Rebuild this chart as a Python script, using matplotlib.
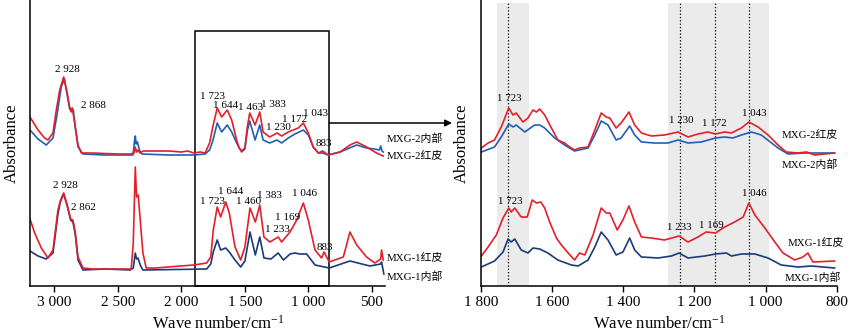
import matplotlib
matplotlib.use('Agg')
import matplotlib.pyplot as plt
from matplotlib.patches import Rectangle
import numpy as np

plt.rcParams['font.family'] = ['Liberation Serif', 'Noto Sans CJK SC']
plt.rcParams['mathtext.fontset'] = 'custom'
plt.rcParams['mathtext.rm'] = 'Liberation Serif'
plt.rcParams['mathtext.default'] = 'regular'
plt.rcParams['axes.linewidth'] = 1.1

RED = '#e3202a'
BLUE = '#1f60b5'
NAVY = '#1b3a78'

# ---- full range spectra (wavenumber / cm-1, absorbance a.u.) ----
wn_2red = [3191, 3128, 3076, 3050, 3010, 2984, 2957, 2926, 2898, 2879, 2871, 2865, 2858,
           2839, 2813, 2787, 2700, 2500, 2400, 2372, 2362, 2352, 2342, 2325, 2300, 2200,
           2100, 2000, 1950, 1900, 1850, 1812, 1777, 1752, 1717, 1682, 1638, 1603, 1564,
           1545, 1525, 1499, 1480, 1461, 1419, 1382, 1356, 1304, 1246, 1210, 1158, 1118,
           1079, 1039, 1000, 961, 921, 887, 843, 750, 672, 619, 541, 463, 410]
ab_2red = [1.69, 1.56, 1.48, 1.46, 1.53, 1.76, 1.96, 2.09, 1.93, 1.79, 1.77, 1.74, 1.78,
           1.63, 1.41, 1.33, 1.33, 1.32, 1.32, 1.33, 1.39, 1.34, 1.36, 1.33, 1.35, 1.35,
           1.35, 1.34, 1.35, 1.33, 1.34, 1.33, 1.43, 1.59, 1.78, 1.69, 1.76, 1.66, 1.46,
           1.38, 1.35, 1.38, 1.59, 1.73, 1.61, 1.74, 1.54, 1.49, 1.53, 1.50, 1.54, 1.56,
           1.58, 1.63, 1.53, 1.39, 1.33, 1.35, 1.31, 1.34, 1.41, 1.44, 1.39, 1.33, 1.30]

wn_2blue = [3191, 3128, 3063, 3010, 2976, 2945, 2920, 2898, 2879, 2865, 2850, 2835, 2813,
            2774, 2600, 2400, 2380, 2368, 2362, 2355, 2345, 2330, 2310, 2100, 1900, 1812,
            1777, 1752, 1717, 1682, 1638, 1603, 1564, 1525, 1499, 1480, 1461, 1419, 1382,
            1356, 1304, 1246, 1210, 1158, 1105, 1039, 1000, 961, 921, 887, 843, 750, 619,
            541, 480, 440, 430, 420, 410]
ab_2blue = [1.56, 1.47, 1.41, 1.48, 1.73, 1.99, 2.07, 1.91, 1.77, 1.75, 1.76, 1.59, 1.39,
            1.32, 1.31, 1.31, 1.31, 1.45, 1.50, 1.42, 1.44, 1.36, 1.32, 1.31, 1.31, 1.32,
            1.36, 1.45, 1.63, 1.54, 1.61, 1.54, 1.43, 1.34, 1.37, 1.55, 1.65, 1.46, 1.61,
            1.46, 1.43, 1.46, 1.43, 1.48, 1.52, 1.56, 1.51, 1.39, 1.33, 1.33, 1.31, 1.34,
            1.41, 1.38, 1.37, 1.36, 1.40, 1.35, 1.34]

wn_1red = [3191, 3154, 3102, 3050, 3010, 2971, 2950, 2926, 2898, 2871, 2853, 2835, 2813,
           2774, 2700, 2400, 2394, 2378, 2362, 2352, 2339, 2302, 2276, 2200, 2105, 1900,
           1800, 1768, 1748, 1717, 1690, 1650, 1622, 1577, 1532, 1499, 1459, 1417, 1382,
           1349, 1302, 1237, 1210, 1144, 1091, 1039, 1000, 947, 895, 876, 835, 724, 672,
           619, 541, 476, 430, 423, 410]
ab_1red = [0.67, 0.53, 0.38, 0.28, 0.36, 0.76, 0.86, 0.93, 0.81, 0.67, 0.66, 0.54, 0.29,
           0.18, 0.17, 0.17, 0.17, 0.43, 1.19, 0.89, 0.91, 0.33, 0.18, 0.18, 0.19, 0.21,
           0.23, 0.29, 0.56, 0.79, 0.69, 0.84, 0.73, 0.39, 0.26, 0.39, 0.78, 0.64, 0.81,
           0.49, 0.44, 0.49, 0.44, 0.54, 0.66, 0.83, 0.66, 0.36, 0.28, 0.34, 0.24, 0.29,
           0.54, 0.41, 0.29, 0.23, 0.27, 0.36, 0.26]

wn_1navy = [3191, 3128, 3063, 3010, 2971, 2953, 2926, 2898, 2871, 2853, 2835, 2813, 2774,
            2600, 2400, 2378, 2362, 2352, 2341, 2320, 2302, 1800, 1768, 1748, 1717, 1690,
            1650, 1622, 1577, 1532, 1499, 1459, 1417, 1382, 1349, 1294, 1237, 1195, 1144,
            1105, 1066, 1013, 947, 835, 672, 515, 430, 423, 405]
ab_1navy = [0.35, 0.30, 0.27, 0.33, 0.72, 0.84, 0.92, 0.80, 0.66, 0.64, 0.52, 0.26, 0.16,
            0.17, 0.16, 0.18, 0.33, 0.27, 0.28, 0.20, 0.16, 0.17, 0.22, 0.34, 0.46, 0.36,
            0.38, 0.34, 0.26, 0.19, 0.25, 0.54, 0.31, 0.49, 0.28, 0.27, 0.33, 0.26, 0.32,
            0.33, 0.32, 0.32, 0.21, 0.18, 0.25, 0.20, 0.22, 0.24, 0.12]

# ---- fingerprint region 1800-800 cm-1 ----
fp_2red_wn = [1799, 1780, 1762, 1743, 1722, 1710, 1701, 1682, 1668, 1654, 1644, 1635, 1621,
              1602, 1584, 1565, 1551, 1537, 1523, 1499, 1480, 1462, 1448, 1438, 1420, 1406,
              1384, 1368, 1349, 1321, 1284, 1246, 1218, 1190, 1162, 1141, 1115, 1096, 1068,
              1047, 1021, 993, 965, 942, 909, 885, 862, 806]
fp_2red_ab = [1.38, 1.43, 1.46, 1.59, 1.78, 1.71, 1.73, 1.64, 1.68, 1.76, 1.74, 1.77, 1.71,
              1.58, 1.46, 1.43, 1.39, 1.36, 1.38, 1.39, 1.56, 1.73, 1.69, 1.68, 1.58, 1.63,
              1.74, 1.61, 1.53, 1.50, 1.51, 1.54, 1.49, 1.52, 1.54, 1.52, 1.54, 1.53, 1.58,
              1.64, 1.59, 1.51, 1.41, 1.34, 1.33, 1.34, 1.31, 1.33]

fp_2blue_wn = [1799, 1762, 1743, 1722, 1710, 1701, 1677, 1649, 1635, 1621, 1593, 1565, 1537,
               1499, 1480, 1462, 1443, 1420, 1406, 1382, 1368, 1349, 1312, 1274, 1246, 1218,
               1181, 1141, 1115, 1092, 1068, 1040, 1012, 965, 937, 890, 806]
fp_2blue_ab = [1.34, 1.39, 1.49, 1.62, 1.59, 1.61, 1.54, 1.61, 1.61, 1.58, 1.48, 1.41, 1.35,
               1.38, 1.51, 1.65, 1.61, 1.46, 1.48, 1.60, 1.51, 1.44, 1.43, 1.43, 1.46, 1.43,
               1.44, 1.48, 1.49, 1.48, 1.51, 1.54, 1.51, 1.38, 1.32, 1.33, 1.33]

fp_1red_wn = [1799, 1780, 1757, 1738, 1722, 1715, 1705, 1687, 1670, 1656, 1644, 1632, 1621,
              1607, 1588, 1574, 1555, 1537, 1523, 1508, 1485, 1462, 1448, 1438, 1417, 1401,
              1384, 1368, 1349, 1321, 1284, 1243, 1218, 1190, 1167, 1141, 1115, 1087, 1063,
              1047, 1030, 1002, 974, 951, 918, 895, 881, 867, 806]
fp_1red_ab = [0.30, 0.39, 0.51, 0.68, 0.78, 0.74, 0.78, 0.69, 0.69, 0.86, 0.83, 0.84, 0.78,
              0.64, 0.48, 0.41, 0.33, 0.26, 0.33, 0.31, 0.51, 0.78, 0.73, 0.73, 0.56, 0.66,
              0.80, 0.64, 0.49, 0.48, 0.46, 0.50, 0.44, 0.49, 0.54, 0.53, 0.59, 0.64, 0.69,
              0.83, 0.71, 0.58, 0.44, 0.33, 0.26, 0.29, 0.33, 0.24, 0.25]

fp_1navy_wn = [1799, 1762, 1738, 1724, 1715, 1705, 1687, 1668, 1654, 1635, 1612, 1584, 1546,
               1527, 1499, 1480, 1462, 1443, 1420, 1401, 1382, 1368, 1349, 1302, 1265, 1243,
               1218, 1171, 1141, 1110, 1096, 1068, 1030, 993, 956, 909, 871, 806]
fp_1navy_ab = [0.19, 0.25, 0.34, 0.47, 0.44, 0.47, 0.36, 0.33, 0.38, 0.37, 0.33, 0.26, 0.21,
               0.20, 0.26, 0.39, 0.54, 0.46, 0.31, 0.34, 0.48, 0.36, 0.29, 0.28, 0.30, 0.33,
               0.28, 0.30, 0.32, 0.33, 0.30, 0.32, 0.32, 0.28, 0.21, 0.19, 0.20, 0.18]

# peak labels: (text, wavenumber, absorbance)
peaks_full = [('2 928', 2898, 2.16), ('2 868', 2693, 1.80), ('1 723', 1756, 1.89),
              ('1 644', 1652, 1.80), ('1 463', 1452, 1.78), ('1 383', 1276, 1.81),
              ('1 230', 1233, 1.58), ('1 172', 1105, 1.66), ('1 043', 947, 1.72),
              ('883', 876, 1.42),
              ('2 928', 2913, 1.01), ('2 862', 2774, 0.79), ('1 723', 1756, 0.84),
              ('1 644', 1611, 0.94), ('1 460', 1472, 0.85), ('1 383', 1307, 0.91),
              ('1 233', 1244, 0.56), ('1 169', 1162, 0.69), ('1 046', 1026, 0.92),
              ('883', 869, 0.39)]
peaks_fp = [('1 723', 1721, 1.87), ('1 230', 1236, 1.65), ('1 172', 1145, 1.63),
            ('1 043', 1032, 1.72), ('1 723', 1718, 0.85), ('1 233', 1243, 0.58),
            ('1 169', 1151, 0.61), ('1 046', 1032, 0.92)]

names_full = [('MXG-2内部', 383, 1.47), ('MXG-2红皮', 383, 1.31),
              ('MXG-1红皮', 383, 0.29), ('MXG-1内部', 383, 0.09)]
names_fp = [('MXG-2红皮', 954, 1.52), ('MXG-2内部', 954, 1.21),
            ('MXG-1红皮', 939, 0.44), ('MXG-1内部', 945, 0.08)]

full_ticks = [3000, 2500, 2000, 1500, 1000, 500]
fp_ticks = [1800, 1600, 1400, 1200, 1000, 800]
shade_bands = [(1756, 1666), (1275, 990)]
guide_lines = [1723, 1240, 1141, 1046]
zoom_box = (1890, 835)


def tick_text(v):
    s = str(v)
    return s[:-3] + ' ' + s[-3:] if v >= 1000 else s


def style_axes(ax, ticks, xlim):
    ax.set_xlim(*xlim)
    ax.set_ylim(0, 2.86)
    ax.spines['top'].set_visible(False)
    ax.spines['right'].set_visible(False)
    ax.set_yticks([])
    ax.set_xticks(ticks, [tick_text(t) for t in ticks])
    ax.tick_params(axis='x', direction='out', length=4, width=1, labelsize=11, pad=3)
    ax.set_ylabel('Absorbance', fontsize=12)
    ax.set_xlabel('Wave number/cm$^{-1}$', fontsize=12)


fig = plt.figure(figsize=(8.5, 3.36), dpi=100)
ax1 = fig.add_axes([30 / 850, 50 / 336, 355 / 850, 286 / 336])
ax2 = fig.add_axes([481 / 850, 50 / 336, 355.7 / 850, 286 / 336])

# full spectrum
ax1.plot(wn_2blue, ab_2blue, color=BLUE, lw=1.2)
ax1.plot(wn_2red, ab_2red, color=RED, lw=1.2)
ax1.plot(wn_1navy, ab_1navy, color=NAVY, lw=1.2)
ax1.plot(wn_1red, ab_1red, color=RED, lw=1.2)
style_axes(ax1, full_ticks, (3191, 396))
ax1.xaxis.set_label_coords(0.53, -0.1)
ax1.yaxis.set_label_coords(-0.03, 0.5)

for txt, x, y in peaks_full:
    ax1.text(x, y, txt, fontsize=8.0, ha='center', va='center')
for txt, x, y in names_full:
    ax1.text(x, y, txt, fontsize=7.8, ha='left', va='center', clip_on=False)

ax1.add_patch(Rectangle((zoom_box[0], 0), zoom_box[1] - zoom_box[0], 2.55,
                        fill=False, ec='black', lw=1.1, clip_on=False))
ax1.annotate('', xy=(452, 336 - 123), xycoords='figure pixels',
             xytext=(zoom_box[1], 1.63), textcoords='data',
             arrowprops=dict(arrowstyle='-|>', color='black', lw=1.1,
                             shrinkA=0, shrinkB=0, mutation_scale=10))

# fingerprint region
for a, b in shade_bands:
    ax2.axvspan(a, b, ymin=0, ymax=0.99, color='#ebebeb', lw=0, zorder=0)
for g in guide_lines:
    ax2.axvline(g, ymin=0, ymax=0.99, color='black', ls=':', lw=0.9, zorder=1)
ax2.plot(fp_2blue_wn, fp_2blue_ab, color=BLUE, lw=1.2, zorder=2)
ax2.plot(fp_2red_wn, fp_2red_ab, color=RED, lw=1.2, zorder=2)
ax2.plot(fp_1navy_wn, fp_1navy_ab, color=NAVY, lw=1.2, zorder=2)
ax2.plot(fp_1red_wn, fp_1red_ab, color=RED, lw=1.2, zorder=2)
style_axes(ax2, fp_ticks, (1800, 800))
ax2.xaxis.set_label_coords(0.5, -0.1)
ax2.yaxis.set_label_coords(-0.03, 0.5)

for txt, x, y in peaks_fp:
    ax2.text(x, y, txt, fontsize=7.8, ha='center', va='center', zorder=3)
for txt, x, y in names_fp:
    ax2.text(x, y, txt, fontsize=7.8, ha='left', va='center', clip_on=False)

fig.savefig('out.png', dpi=100)
